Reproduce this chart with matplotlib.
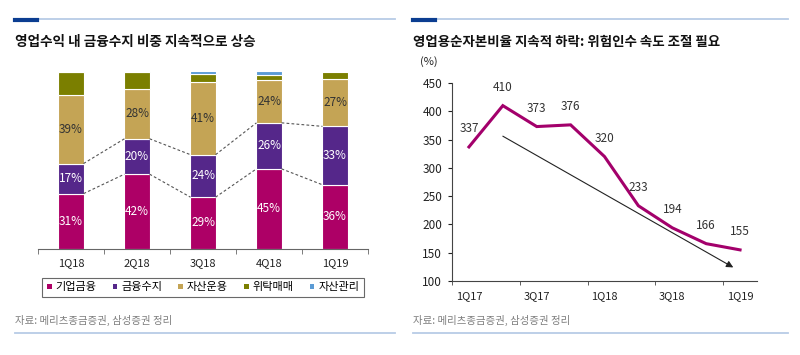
import numpy as np
import matplotlib.pyplot as plt
from matplotlib.lines import Line2D
from matplotlib.patches import Patch

plt.rcParams['font.family'] = ['Noto Sans CJK KR', 'DejaVu Sans']

# left chart: 영업수익 구성 (%)
quarters = ['1Q18', '2Q18', '3Q18', '4Q18', '1Q19']
seg_names = ['기업금융', '금융수지', '자산운용', '위탁매매', '자산관리']
corp_fin = [31, 42, 29, 45, 36]
fin_income = [17, 20, 24, 26, 33]
asset_mgmt_op = [39, 28, 41, 24, 27]
brokerage = [12.5, 9.5, 4.5, 3, 4]
wealth_mgmt = [0.5, 0.5, 1.5, 2, 0]
seg_colors = ['#AD0066', '#55278A', '#C4A455', '#7B7F00', '#5B9BD5']

# right chart: 영업용순자본비율 (%)
ncr_q = ['1Q17', '2Q17', '3Q17', '4Q17', '1Q18', '2Q18', '3Q18', '4Q18', '1Q19']
ncr = [337, 410, 373, 376, 320, 233, 194, 166, 155]
trend_start = (1.0, 356)
trend_end = (7.8, 124)

W, H = 800, 355
fig = plt.figure(figsize=(W / 100, H / 100), dpi=100)

def fx(px):
    return px / W

def fy(py):
    return 1 - py / H

# header / footer decorations
for x0, x1 in [(15, 395), (413, 788)]:
    fig.add_artist(Line2D([fx(x0), fx(x1)], [fy(18.5), fy(18.5)], color='#B7CBE6', lw=1.3))
    fig.add_artist(Line2D([fx(x0), fx(x0 + 22)], [fy(19.5), fy(19.5)], color='#0B3D91', lw=3))
    fig.add_artist(Line2D([fx(x0), fx(x1)], [fy(333), fy(333)], color='#B7CBE6', lw=1.3))
    fig.text(fx(x0), fy(320), '자료: 메리츠종금증권, 삼성증권 정리', fontsize=7.5,
             color='#7F7F7F', va='center', ha='left')

fig.text(fx(15), fy(42), '영업수익 내 금융수지 비중 지속적으로 상승', fontsize=9.8,
         fontweight='bold', va='center', ha='left', color='#111111')
fig.text(fx(413), fy(42), '영업용순자본비율 지속적 하락: 위험인수 속도 조절 필요', fontsize=9.7,
         fontweight='bold', va='center', ha='left', color='#111111')

# ---- left: stacked bars
ax = fig.add_axes([fx(38), fy(248.5), fx(330), 177 / H])
x = np.arange(len(quarters))
bw = 0.38
series = [corp_fin, fin_income, asset_mgmt_op, brokerage, wealth_mgmt]
bottom = np.zeros(len(quarters))
tops = []
for vals, col in zip(series, seg_colors):
    vals = np.array(vals, dtype=float)
    ax.bar(x, vals, bw, bottom=bottom, color=col, edgecolor='white', linewidth=0.8)
    bottom = bottom + vals
    tops.append(bottom.copy())

# value labels
lab_bottom = np.zeros(len(quarters))
for vals, txtcol in zip(series[:3], ['white', 'white', '#333333']):
    for i, v in enumerate(vals):
        ax.text(x[i], lab_bottom[i] + v / 2, f'{v:.0f}%', ha='center', va='center',
                fontsize=8.5, color=txtcol)
    lab_bottom = lab_bottom + np.array(vals)

# series lines (dashed) for first two segments
for k in range(2):
    for i in range(len(quarters) - 1):
        ax.plot([x[i] + bw / 2, x[i + 1] - bw / 2], [tops[k][i], tops[k][i + 1]],
                ls=(0, (2.5, 2)), color='#555555', lw=0.8)

ax.set_xlim(-0.5, len(quarters) - 0.5)
ax.set_ylim(0, 100)
ax.set_yticks([])
ax.set_xticks(x)
ax.set_xticklabels(quarters, fontsize=8)
ax.set_xticks(np.arange(-0.5, len(quarters)), minor=True)
ax.tick_params(axis='x', which='major', length=0, pad=7, colors='#222222')
ax.tick_params(axis='x', which='minor', length=3.5, direction='out', color='#666666')
for s in ['top', 'right', 'left']:
    ax.spines[s].set_visible(False)
ax.spines['bottom'].set_color('#666666')

handles = [Patch(facecolor=c, edgecolor='none') for c in seg_colors]
leg = ax.legend(handles, seg_names, loc='upper center', bbox_to_anchor=(0.5, -0.135),
                ncol=5, fontsize=8, frameon=True, fancybox=False, handlelength=0.42,
                handleheight=0.42, handletextpad=0.35, columnspacing=1.45,
                borderpad=0.4, edgecolor='#444444')
leg.get_frame().set_linewidth(0.8)

# ---- right: line chart
ax2 = fig.add_axes([fx(452), fy(281), fx(305), 198 / H])
xi = np.arange(len(ncr_q))
ax2.plot(xi, ncr, color='#A3006B', lw=2.2, solid_joinstyle='miter')
for i, v in enumerate(ncr):
    ax2.annotate(str(v), (xi[i], v), xytext=(0, 13), textcoords='offset points',
                 ha='center', va='center', fontsize=8.5, color='#333333')
ax2.annotate('', xy=trend_end, xytext=trend_start,
             arrowprops=dict(arrowstyle='-|>', color='#222222', lw=0.8,
                             mutation_scale=10, shrinkA=0, shrinkB=0))
ax2.set_xlim(-0.5, len(ncr_q) - 0.5)
ax2.set_ylim(100, 450)
ax2.set_yticks(np.arange(100, 451, 50))
ax2.tick_params(axis='y', length=3, direction='out', labelsize=8.5, colors='#222222', pad=4)
ax2.set_xticks(xi[::2])
ax2.set_xticklabels(ncr_q[::2], fontsize=8)
ax2.set_xticks(np.arange(-0.5, len(ncr_q) - 1, 2), minor=True)
ax2.tick_params(axis='x', which='major', length=0, pad=7, colors='#222222')
ax2.tick_params(axis='x', which='minor', length=3, direction='out', color='#444444')
ax2.spines['top'].set_visible(False)
ax2.spines['right'].set_visible(False)
ax2.spines['left'].set_color('#444444')
ax2.spines['bottom'].set_color('#444444')
fig.text(fx(429), fy(62), '(%)', fontsize=8, ha='center', va='center', color='#222222')

fig.savefig('out.png', dpi=100)
